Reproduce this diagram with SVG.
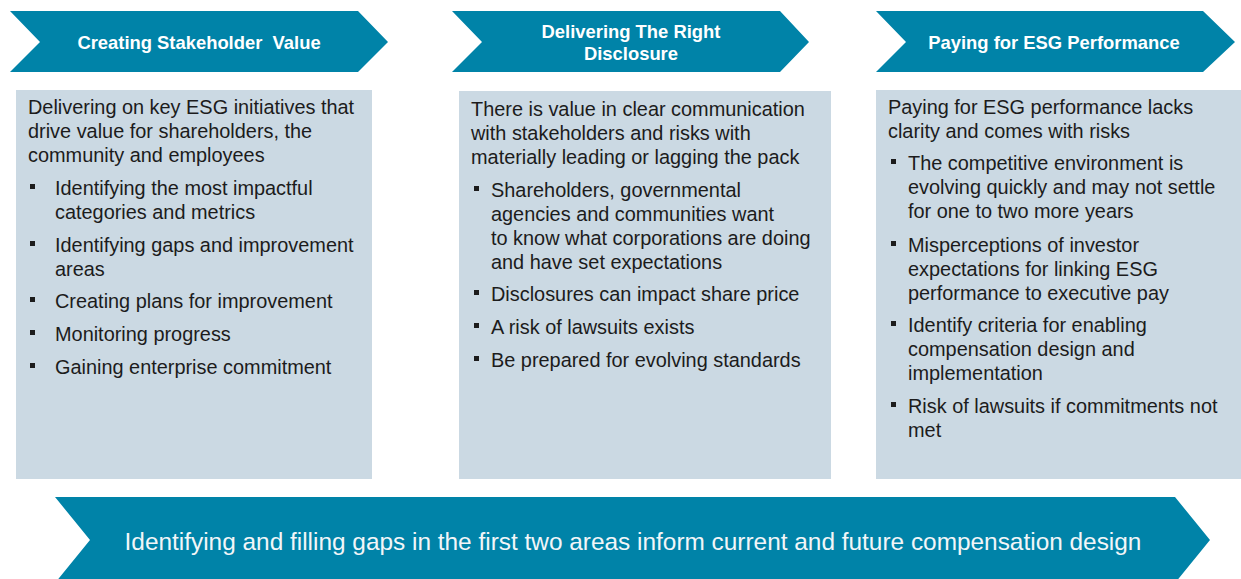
<svg xmlns="http://www.w3.org/2000/svg" width="1241" height="579" viewBox="0 0 1241 579">
  <style>
    .chev { fill: #0083a8; }
    .panel { fill: #cbd9e3; }
    .head { font-family: "Liberation Sans", Arial, sans-serif; font-size: 18.4px; font-weight: bold; fill: #ffffff; text-anchor: middle; white-space: pre; }
    .body { font-family: "Liberation Sans", Arial, sans-serif; font-size: 19.9px; fill: #1c1c1c; }
    .dot { fill: #1c1c1c; }
    .banner { font-family: "Liberation Sans", Arial, sans-serif; font-size: 24.4px; fill: #f2f6f8; text-anchor: middle; }
  </style>

  <!-- Column 1 -->
  <g id="header-stakeholder-value">
    <polygon class="chev" points="10,11 358,11 388,42 358,72 10,72 40,42"/>
    <text class="head" x="199" y="49" xml:space="preserve">Creating Stakeholder  Value</text>
  </g>
  <g id="panel-stakeholder-value">
    <rect class="panel" x="16" y="90" width="356" height="389"/>
    <text class="body" x="28" y="114">Delivering on key ESG initiatives that</text>
    <text class="body" x="28" y="138">drive value for shareholders, the</text>
    <text class="body" x="28" y="162">community and employees</text>
    <rect class="dot" x="30" y="184" width="5" height="5"/>
    <text class="body" x="55" y="195">Identifying the most impactful</text>
    <text class="body" x="55" y="219">categories and metrics</text>
    <rect class="dot" x="30" y="241" width="5" height="5"/>
    <text class="body" x="55" y="252">Identifying gaps and improvement</text>
    <text class="body" x="55" y="276">areas</text>
    <rect class="dot" x="30" y="297" width="5" height="5"/>
    <text class="body" x="55" y="308">Creating plans for improvement</text>
    <rect class="dot" x="30" y="330" width="5" height="5"/>
    <text class="body" x="55" y="341">Monitoring progress</text>
    <rect class="dot" x="30" y="363" width="5" height="5"/>
    <text class="body" x="55" y="374">Gaining enterprise commitment</text>
  </g>

  <!-- Column 2 -->
  <g id="header-right-disclosure">
    <polygon class="chev" points="452,11 780,11 809,42 780,72 452,72 482,42"/>
    <text class="head" x="631" y="38">Delivering The Right</text>
    <text class="head" x="631" y="60">Disclosure</text>
  </g>
  <g id="panel-right-disclosure">
    <rect class="panel" x="459" y="91" width="372" height="388"/>
    <text class="body" x="471" y="116">There is value in clear communication</text>
    <text class="body" x="471" y="140">with stakeholders and risks with</text>
    <text class="body" x="471" y="164">materially leading or lagging the pack</text>
    <rect class="dot" x="474" y="186" width="5" height="5"/>
    <text class="body" x="491" y="197">Shareholders, governmental</text>
    <text class="body" x="491" y="221">agencies and communities want</text>
    <text class="body" x="491" y="245">to know what corporations are doing</text>
    <text class="body" x="491" y="269">and have set expectations</text>
    <rect class="dot" x="474" y="290" width="5" height="5"/>
    <text class="body" x="491" y="301">Disclosures can impact share price</text>
    <rect class="dot" x="474" y="323" width="5" height="5"/>
    <text class="body" x="491" y="334">A risk of lawsuits exists</text>
    <rect class="dot" x="474" y="356" width="5" height="5"/>
    <text class="body" x="491" y="367">Be prepared for evolving standards</text>
  </g>

  <!-- Column 3 -->
  <g id="header-esg-pay">
    <polygon class="chev" points="876,11 1203,11 1235,42 1203,72 876,72 906,42"/>
    <text class="head" x="1054" y="49">Paying for ESG Performance</text>
  </g>
  <g id="panel-esg-pay">
    <rect class="panel" x="876" y="90" width="365" height="389"/>
    <text class="body" x="888" y="114">Paying for ESG performance lacks</text>
    <text class="body" x="888" y="138">clarity and comes with risks</text>
    <rect class="dot" x="891" y="159" width="5" height="5"/>
    <text class="body" x="908" y="170">The competitive environment is</text>
    <text class="body" x="908" y="194">evolving quickly and may not settle</text>
    <text class="body" x="908" y="218">for one to two more years</text>
    <rect class="dot" x="891" y="241" width="5" height="5"/>
    <text class="body" x="908" y="252">Misperceptions of investor</text>
    <text class="body" x="908" y="276">expectations for linking ESG</text>
    <text class="body" x="908" y="300">performance to executive pay</text>
    <rect class="dot" x="891" y="321" width="5" height="5"/>
    <text class="body" x="908" y="332">Identify criteria for enabling</text>
    <text class="body" x="908" y="356">compensation design and</text>
    <text class="body" x="908" y="380">implementation</text>
    <rect class="dot" x="891" y="402" width="5" height="5"/>
    <text class="body" x="908" y="413">Risk of lawsuits if commitments not</text>
    <text class="body" x="908" y="437">met</text>
  </g>

  <!-- Summary banner -->
  <g id="banner-summary">
    <polygon class="chev" points="55,497 1175,497 1210,540 1175,583 55,583 90,540"/>
    <text class="banner" x="633" y="550">Identifying and filling gaps in the first two areas inform current and future compensation design</text>
  </g>

  <g id="connectors"/>
</svg>
